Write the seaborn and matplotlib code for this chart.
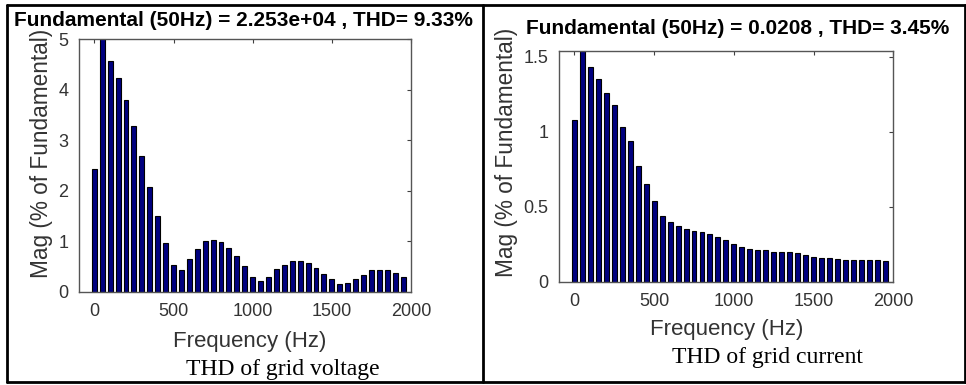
import numpy as np
import pandas as pd
import matplotlib
matplotlib.use("Agg")
import matplotlib.pyplot as plt
from matplotlib.lines import Line2D
import seaborn as sns

# ---------------- data ----------------
freq_hz = list(range(0, 2000, 50))

voltage_mag = [2.42, 100.0, 4.56, 4.23, 3.80, 3.28, 2.69, 2.08, 1.50, 0.97,
               0.53, 0.43, 0.65, 0.85, 1.00, 1.03, 0.99, 0.87, 0.70, 0.50,
               0.30, 0.21, 0.30, 0.45, 0.53, 0.60, 0.60, 0.57, 0.47, 0.35,
               0.25, 0.15, 0.17, 0.26, 0.33, 0.42, 0.43, 0.42, 0.37, 0.30]

current_mag = [1.08, 100.0, 1.43, 1.35, 1.26, 1.18, 1.03, 0.94, 0.77, 0.65,
               0.54, 0.44, 0.40, 0.375, 0.35, 0.34, 0.33, 0.32, 0.30, 0.28,
               0.25, 0.23, 0.215, 0.21, 0.21, 0.20, 0.20, 0.20, 0.19, 0.18,
               0.165, 0.16, 0.155, 0.15, 0.148, 0.145, 0.145, 0.145, 0.145, 0.14]

titles = ["Fundamental (50Hz) = 2.253e+04 , THD= 9.33%",
          "Fundamental (50Hz) = 0.0208 , THD= 3.45%"]
captions = ["THD of grid voltage", "THD of grid current"]
x_ticks = [0, 500, 1000, 1500, 2000]
y_ticks_left = [0, 1, 2, 3, 4, 5]
y_ticks_right = [0, 0.5, 1, 1.5]
y_tick_labels_right = ["0", "0.5", "1", "1.5"]

# ---------------- style ----------------
sns.set_style("white")
plt.rcParams["font.family"] = ["Liberation Sans", "DejaVu Sans"]

W, H = 966, 385
fig = plt.figure(figsize=(W / 100, H / 100), dpi=100)

def fx(px):
    return px / W

def fy(py):
    return 1 - py / H

GRAY = "#404040"
BAR = "#00007F"

def panel(rect, mags, ylim, yticks, yticklabels):
    ax = fig.add_axes(rect)
    df = pd.DataFrame({"Frequency": freq_hz, "Mag": mags})
    sns.barplot(data=df, x="Frequency", y="Mag", native_scale=True,
                width=0.62, color=BAR, edgecolor="black", linewidth=0.8,
                saturation=1, errorbar=None, ax=ax)
    ax.set_xlim(-95, 2000)
    ax.set_ylim(*ylim)
    ax.set_xticks(x_ticks)
    ax.set_xticklabels([str(t) for t in x_ticks])
    ax.set_yticks(yticks)
    ax.set_yticklabels(yticklabels)
    ax.tick_params(direction="in", length=3, width=0.8, colors=GRAY,
                   labelsize=13, top=True, right=True, pad=8,
                   labelcolor="#333333")
    for s in ax.spines.values():
        s.set_visible(True)
        s.set_color("#555555")
        s.set_linewidth(1.0)
    ax.set_xlabel("")
    ax.set_ylabel("")
    return ax

axL = panel([fx(79.3), fy(291.7), fx(411) - fx(79.3), fy(39) - fy(291.7)],
            voltage_mag, (0, 5), y_ticks_left, [str(t) for t in y_ticks_left])
axR = panel([fx(559.3), fy(281.7), fx(893.3) - fx(559.3), fy(51) - fy(281.7)],
            current_mag, (0, 1.54), y_ticks_right, y_tick_labels_right)

# titles
fig.text(fx(243), fy(20), titles[0], ha="center", va="center",
         fontsize=15, fontweight="bold", color="black")
fig.text(fx(738), fy(28), titles[1], ha="center", va="center",
         fontsize=15, fontweight="bold", color="black")

# axis labels
fig.text(fx(250), fy(341), "Frequency (Hz)", ha="center", va="center",
         fontsize=16, color="#333333")
fig.text(fx(727), fy(330), "Frequency (Hz)", ha="center", va="center",
         fontsize=16, color="#333333")
fig.text(fx(42), fy(153), "Mag (% of Fundamental)", ha="center", va="center",
         rotation=90, fontsize=16.3, color="#333333")
fig.text(fx(506), fy(152), "Mag (% of Fundamental)", ha="center", va="center",
         rotation=90, fontsize=16.3, color="#333333")

# captions
fig.text(fx(283), fy(370), captions[0], ha="center", va="center",
         fontsize=17, color="black", family=["Liberation Serif", "DejaVu Serif"])
fig.text(fx(767), fy(358), captions[1], ha="center", va="center",
         fontsize=17, color="black", family=["Liberation Serif", "DejaVu Serif"])

# table border
lw = 2.0
for (x0, y0, x1, y1) in [(7, 5, 965, 5), (7, 382, 965, 382), (7, 5, 7, 382),
                         (965, 5, 965, 382), (483.5, 5, 483.5, 382)]:
    fig.add_artist(Line2D([fx(x0), fx(x1)], [fy(y0), fy(y1)], color="black",
                          linewidth=lw, transform=fig.transFigure))

fig.savefig("out.png", dpi=100)
